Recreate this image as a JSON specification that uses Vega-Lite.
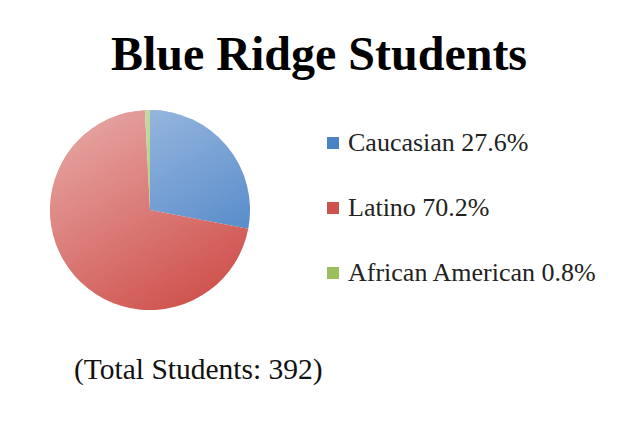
{
  "$schema": "https://vega.github.io/schema/vega-lite/v6.json",
  "background": "white",
  "padding": {"left": 50, "top": 32, "right": 10, "bottom": 10},
  "title": {
    "text": "Blue Ridge Students",
    "font": "Liberation Serif",
    "fontSize": 48,
    "fontWeight": "bold",
    "color": "#000000",
    "anchor": "middle",
    "frame": "bounds",
    "dx": -5,
    "offset": 30
  },
  "vconcat": [
    {
      "width": 200,
      "height": 200,
      "title": {
        "text": "(Total Students: 392)",
        "orient": "bottom",
        "anchor": "start",
        "frame": "group",
        "dx": 24,
        "offset": 46,
        "font": "Liberation Serif",
        "fontSize": 29.5,
        "fontWeight": "normal",
        "color": "#111111"
      },
      "layer": [
        {
          "data": {
            "values": [
              {"group": "Caucasian 27.6%", "pct": 27.6, "order": 1},
              {"group": "Latino 70.2%", "pct": 70.2, "order": 2},
              {"group": "African American 0.8%", "pct": 0.8, "order": 3}
            ]
          },
          "mark": {"type": "arc", "stroke": null},
          "encoding": {
            "theta": {"field": "pct", "type": "quantitative", "stack": true},
            "order": {"field": "order", "type": "quantitative"},
            "color": {
              "field": "group",
              "type": "nominal",
              "scale": {
                "domain": ["Caucasian 27.6%", "Latino 70.2%", "African American 0.8%"],
                "range": ["#4a82c6", "#cf524d", "#9bbf5a"]
              },
              "legend": {
                "title": null,
                "orient": "none",
                "legendX": 270,
                "legendY": 20,
                "padding": 0,
                "symbolType": "square",
                "symbolSize": 144,
                "symbolStrokeWidth": 0,
                "labelFont": "Liberation Serif",
                "labelFontSize": 26,
                "labelColor": "#222222",
                "labelOffset": 2,
                "rowPadding": 39,
                "labelLimit": 400
              }
            }
          }
        },
        {
          "data": {"values": [{"whole": 1}]},
          "mark": {
            "type": "arc",
            "stroke": null,
            "fill": {
              "gradient": "linear",
              "x1": 0.1,
              "y1": 0,
              "x2": 0.7,
              "y2": 1,
              "stops": [
                {"offset": 0, "color": "rgba(255,255,255,0.5)"},
                {"offset": 1, "color": "rgba(255,255,255,0)"}
              ]
            }
          },
          "encoding": {
            "theta": {"field": "whole", "type": "quantitative"}
          }
        }
      ],
      "resolve": {"scale": {"theta": "independent"}}
    }
  ],
  "config": {"view": {"stroke": null}}
}
